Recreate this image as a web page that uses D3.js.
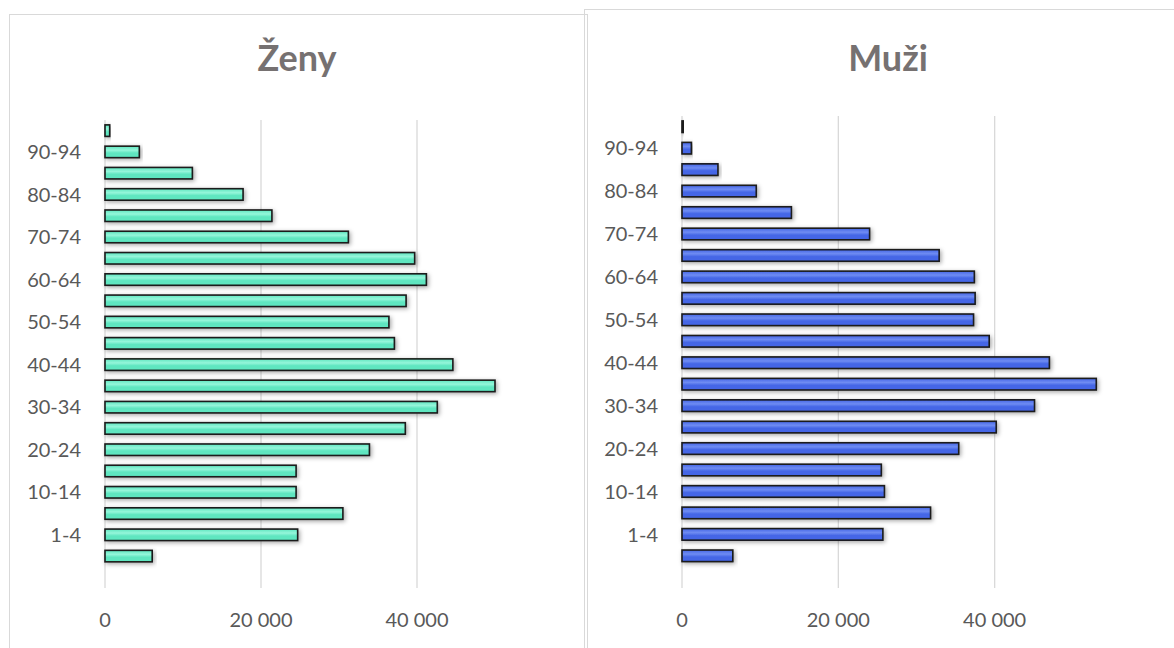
<!DOCTYPE html>
<html>
<head>
<meta charset="utf-8">
<script src="https://cdn.jsdelivr.net/npm/d3@7"></script>
<style>
	body { margin: 0; background: #fff; }
	svg { display: block; font-family: Lato, 'Open Sans', sans-serif; }
</style>
</head>
<body>
<svg></svg>
<script>
const width = 1174;
const height = 648;

// age groups from the bottom up; the first one is empty in the source sheet
const categories = ['', '0', '1-4', '5-9', '10-14', '15-19', '20-24', '25-29', '30-34', '35-39', '40-44',
	'45-49', '50-54', '55-59', '60-64', '65-69', '70-74', '75-79', '80-84', '85-89', '90-94', '95+'];
const tickLabels = ['1-4', '10-14', '20-24', '30-34', '40-44', '50-54', '60-64', '70-74', '80-84', '90-94'];
const xTicks = [0, 20000, 40000];

const zeny = [null, 6050, 24700, 30500, 24500, 24500, 33900, 38500, 42600, 50000, 44600,
	37100, 36400, 38600, 41200, 39700, 31200, 21400, 17700, 11200, 4400, 600];
const muzi = [null, 6500, 25700, 31800, 25900, 25500, 35400, 40200, 45100, 53000, 47000,
	39300, 37300, 37500, 37400, 32900, 24000, 14000, 9500, 4600, 1200, 200];

const svg = d3.select('svg')
	.attr('width', width)
	.attr('height', height);

const defs = svg.append('defs');

const shadow = defs.append('filter')
	.attr('id', 'shadow')
	.attr('x', '-10%').attr('y', '-80%')
	.attr('width', '120%').attr('height', '260%');
shadow.append('feDropShadow')
	.attr('dx', 1.5).attr('dy', 1.5)
	.attr('stdDeviation', 2.2)
	.attr('flood-color', '#000')
	.attr('flood-opacity', 0.35);

function addGradient(id, base, light) {
	const g = defs.append('linearGradient')
		.attr('id', id)
		.attr('x1', 0).attr('y1', 0).attr('x2', 0).attr('y2', 1);
	g.append('stop').attr('offset', '0%').attr('stop-color', base);
	g.append('stop').attr('offset', '35%').attr('stop-color', light);
	g.append('stop').attr('offset', '60%').attr('stop-color', base);
	g.append('stop').attr('offset', '100%').attr('stop-color', base);
}
addGradient('teal', '#5ee6c0', '#95f6da');
addGradient('blue', '#4466e6', '#6f8cf2');

// chart frames first, so neither one hides the other's edge
svg.append('rect')
	.attr('x', 584.5).attr('y', 9.5)
	.attr('width', 610).attr('height', 660)
	.attr('fill', 'none')
	.attr('stroke', '#d9d9d9');
svg.append('rect')
	.attr('x', 9.5).attr('y', 14.5)
	.attr('width', 578).attr('height', 660)
	.attr('fill', 'none')
	.attr('stroke', '#d9d9d9');

function drawPanel(opt) {
	const panel = svg.append('g');

	panel.append('text')
		.attr('x', opt.titleX)
		.attr('y', 71)
		.attr('text-anchor', 'middle')
		.attr('font-size', 36)
		.attr('font-weight', 'bold')
		.attr('fill', '#767171')
		.text(opt.title);

	const x = d3.scaleLinear()
		.domain([0, 60000])
		.range([opt.x0, opt.x0 + opt.w]);

	const y = d3.scaleBand()
		.domain(categories.slice().reverse())
		.range([opt.top, 588])
		.paddingInner(0.46)
		.paddingOuter(0.23);

	panel.selectAll('line.grid')
		.data(xTicks)
		.enter()
		.append('line')
		.attr('class', 'grid')
		.attr('x1', d => x(d))
		.attr('x2', d => x(d))
		.attr('y1', opt.top)
		.attr('y2', 588)
		.attr('stroke', '#d9d9d9')
		.attr('stroke-width', 1.3);

	panel.selectAll('text.xt')
		.data(xTicks)
		.enter()
		.append('text')
		.attr('class', 'xt')
		.attr('x', d => x(d))
		.attr('y', 627)
		.attr('text-anchor', 'middle')
		.attr('font-size', 20)
		.attr('fill', '#595959')
		.text(d => d3.format(',')(d).replace(/,/g, ' '));

	panel.selectAll('text.yt')
		.data(tickLabels)
		.enter()
		.append('text')
		.attr('class', 'yt')
		.attr('x', opt.x0 - 24)
		.attr('y', d => y(d) + y.bandwidth() / 2)
		.attr('dy', '0.36em')
		.attr('text-anchor', 'end')
		.attr('font-size', 20)
		.attr('fill', '#595959')
		.text(d => d);

	const rows = categories.map((c, i) => ({ cat: c, value: opt.values[i] }))
		.filter(d => d.value != null);

	panel.selectAll('rect.bar')
		.data(rows)
		.enter()
		.append('rect')
		.attr('class', 'bar')
		.attr('x', x(0))
		.attr('y', d => y(d.cat))
		.attr('width', d => Math.max(x(d.value) - x(0), 0.5))
		.attr('height', y.bandwidth())
		.attr('fill', `url(#${opt.fill})`)
		.attr('stroke', '#1a1a1a')
		.attr('stroke-width', 1.6)
		.attr('filter', 'url(#shadow)');
}

drawPanel({
	title: 'Ženy',
	values: zeny,
	fill: 'teal',
	titleX: 297,
	x0: 105,
	w: 468,
	top: 120
});

drawPanel({
	title: 'Muži',
	values: muzi,
	fill: 'blue',
	titleX: 888,
	x0: 682,
	w: 469,
	top: 116
});
</script>
</body>
</html>
